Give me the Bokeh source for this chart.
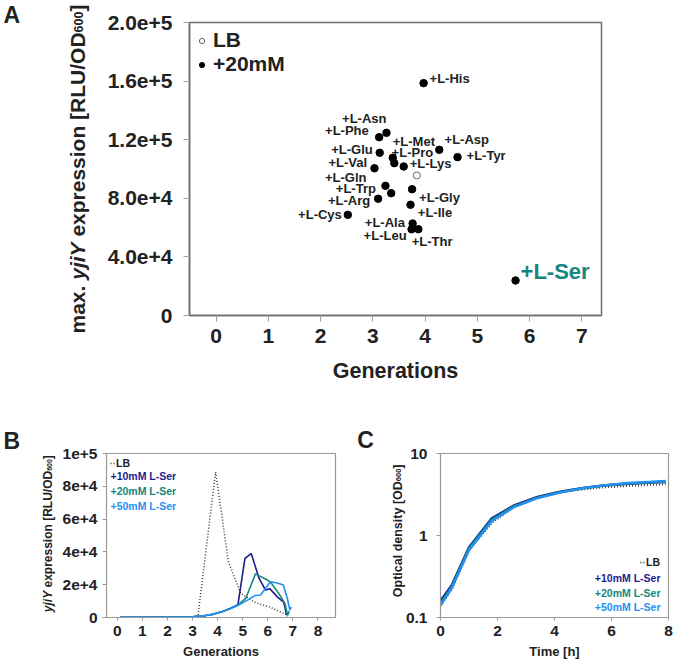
import math
from bokeh.plotting import figure
from bokeh.models import Range1d, FixedTicker, Label, Legend, LegendItem, ColumnDataSource
from bokeh.layouts import column, row
from bokeh.embed import file_html
from bokeh.resources import INLINE
from bokeh.core.properties import value

# ---------------- data ----------------
# Panel A: max. yjiY expression vs generations (+20 mM amino acid)
A_amino = ["+L-His", "+L-Asn", "+L-Phe", "+L-Met", "+L-Asp", "+L-Glu", "+L-Pro", "+L-Tyr",
           "+L-Val", "+L-Lys", "+L-Gln", "+L-Trp", "+L-Gly", "+L-Arg", "+L-Ile", "+L-Cys",
           "+L-Ala", "+L-Leu", "+L-Thr", "+L-Ser"]
A_generations = [3.97, 3.26, 3.12, 3.38, 4.27, 3.13, 3.41, 4.62, 3.03, 3.59,
                 3.24, 3.35, 3.75, 3.10, 3.72, 2.52, 3.76, 3.74, 3.87, 5.73]
A_max_expr = [158600, 124700, 121700, 107600, 113100, 111100, 104000, 108100, 100500, 101700,
              88500, 83500, 86200, 79700, 75600, 68700, 62800, 58900, 58900, 23900]
A_LB_generations = [3.84]
A_LB_max_expr = [95600]
A_xticks = [0, 1, 2, 3, 4, 5, 6, 7]
A_yticks = [0, 40000, 80000, 120000, 160000, 200000]
A_ytick_labels = ["0", "4.0e+4", "8.0e+4", "1.2e+5", "1.6e+5", "2.0e+5"]

# Panel B: yjiY expression vs generations
B_LB_gen = [0.13, 0.6, 1.1, 1.6, 2.1, 2.6, 3.0, 3.22, 3.92, 4.43, 4.92, 5.51, 6.11, 6.71, 6.78]
B_LB_expr = [200, 200, 200, 200, 250, 300, 500, 1400, 88700, 34000, 14700, 9000, 6200, 2000, 500]
B_10_gen = [0.13, 0.7, 1.3, 1.9, 2.5, 3.0, 3.4, 3.8, 4.2, 4.5, 4.81, 5.09, 5.34, 5.65, 5.91, 6.08, 6.38, 6.64, 6.75]
B_10_expr = [150, 150, 150, 200, 250, 400, 900, 1900, 3600, 5500, 7800, 36000, 39000, 24000, 16700, 17600, 12600, 9200, 1400]
B_20_gen = [0.13, 0.7, 1.3, 1.9, 2.5, 3.0, 3.4, 3.8, 4.2, 4.5, 4.81, 5.12, 5.51, 5.98, 6.11, 6.44, 6.68, 6.79, 6.85]
B_20_expr = [150, 150, 150, 200, 250, 400, 900, 1900, 3600, 5400, 7600, 11600, 26600, 22900, 21500, 14700, 8600, 1200, 4000]
B_50_gen = [0.13, 0.7, 1.3, 1.9, 2.5, 3.0, 3.4, 3.8, 4.2, 4.5, 4.81, 5.19, 5.50, 5.71, 6.11, 6.38, 6.62, 6.78, 6.88, 6.93]
B_50_expr = [150, 150, 150, 200, 250, 400, 900, 1900, 3600, 5300, 7300, 10600, 13400, 13700, 21800, 21000, 19800, 11600, 4500, 6500]
B_xticks = [0, 1, 2, 3, 4, 5, 6, 7, 8]
B_yticks = [0, 20000, 40000, 60000, 80000, 100000]
B_ytick_labels = ["0", "2e+4", "4e+4", "6e+4", "8e+4", "1e+5"]

# Panel C: optical density vs time
C_time = [0, 0.4, 1.0, 1.8, 2.6, 3.4, 4.2, 5.0, 5.8, 6.6, 7.4, 7.9]
C_LB = [0.14, 0.22, 0.66, 1.42, 2.25, 2.85, 3.35, 3.65, 3.88, 4.03, 4.15, 4.22]
C_10 = [0.16, 0.25, 0.72, 1.62, 2.35, 2.95, 3.42, 3.80, 4.10, 4.28, 4.42, 4.50]
C_20 = [0.15, 0.24, 0.70, 1.57, 2.30, 2.90, 3.38, 3.77, 4.08, 4.30, 4.45, 4.54]
C_50 = [0.14, 0.23, 0.66, 1.50, 2.24, 2.85, 3.33, 3.78, 4.12, 4.37, 4.52, 4.62]
C_xticks = [0, 2, 4, 6, 8]
C_yticks = [0.1, 1, 10]
C_ytick_labels = ["0.1", "1", "10"]

series_names = ["LB", "+10mM L-Ser", "+20mM L-Ser", "+50mM L-Ser"]

# ---------------- styling ----------------
F = "Liberation Sans"
TXT = "#222222"
NAVY = "#1c1c8c"
TEAL = "#13877e"
BLUE = "#2390f5"
LBC = "#3a3a3a"

# label placement of panel A (pixel offsets of each label from its dot)
A_lab_dx = [6, 0, -10.4, 0, 5.3, -7, -2.7, 9, -7.3, 6, -19, -15.3, 7, -8, 7.3, -6, -7.7, -5, -6.7, 5]
A_lab_dy = [-4.4, -14, -6.7, -16, -10.3, -3.3, -10.4, -1.7, -6, -2.7, -8.6, -5, 8, 1.7, 8, 0, -0.7, 6.3, 12, -9.3]
A_lab_align = ["left", "right", "right", "left", "left", "right", "left", "left", "right", "left",
               "right", "right", "left", "right", "left", "right", "right", "right", "left", "left"]

AW = {' ': 278, '.': 278, '/': 278, '[': 333, ']': 333, '0': 556, '6': 556, 'a': 556, 'c': 556,
      'd': 611, 'e': 556, 'i': 278, 'j': 278, 'l': 278, 'm': 889, 'n': 611, 'o': 611, 'p': 611,
      'r': 389, 's': 556, 't': 333, 'x': 556, 'y': 556, 'D': 722, 'L': 611, 'O': 778, 'R': 722,
      'U': 722, 'Y': 667}


def tw(s, size):
    return sum(AW.get(c, 556) for c in s) * size / 1000.0


class Page:
    """Places free texts of a figure at figure pixel positions (drawn as overlay text glyphs)."""

    def __init__(self, p, x0, y0, frame_left, frame_bottom):
        self.p, self.x0, self.y0, self.fl, self.fb = p, x0, y0, frame_left, frame_bottom

    def text(self, px, py, txt, size, style="bold", color=TXT, align="left", baseline="middle", angle=0.0):
        r = self.p.text(x=[self.x0], y=[self.y0], text=[txt], x_offset=px - self.fl, y_offset=py - self.fb,
                        angle=angle, text_align=align, text_baseline=baseline, text_font=value(F),
                        text_font_style=style, text_font_size=value(f"{size:.2f}px"), text_color=color)
        r.level = "overlay"
        return r

    def rotated(self, px, py0, pieces):
        py = py0
        for txt, size, style, shift in pieces:
            lead = len(txt) - len(txt.lstrip())
            self.text(px + shift, py - tw(txt[:lead], size), txt.strip(), size, style=style,
                      baseline="alphabetic", angle=math.pi / 2)
            py -= tw(txt, size)


def style_axes(p, tick_out, tick_size, tick_standoff, line_color, tick_color):
    for ax in (p.xaxis[0], p.yaxis[0]):
        ax.major_tick_out = tick_out
        ax.major_tick_in = 0
        ax.minor_tick_out = 0
        ax.minor_tick_in = 0
        ax.major_tick_line_color = tick_color
        ax.axis_line_color = line_color
        ax.major_label_text_font = F
        ax.major_label_text_font_style = "bold"
        ax.major_label_text_font_size = tick_size
        ax.major_label_text_color = TXT
        ax.major_label_standoff = tick_standoff
        ax.axis_label_text_font = F
        ax.axis_label_text_font_style = "bold"
        ax.axis_label_text_color = TXT
    p.xgrid.visible = False
    p.ygrid.visible = False


def text_label(p, x, y, txt, size, color=TXT, align="left"):
    p.add_layout(Label(x=x, y=y, x_units="screen", y_units="screen", text=txt, text_font=F,
                       text_font_size=size, text_font_style="bold", text_color=color,
                       text_align=align, text_baseline="middle"))


# ---------------- Panel A ----------------
HA = 425
pA = figure(width=675, height=HA, x_range=Range1d(-0.51, 7.375), y_range=Range1d(0, 200000),
            output_backend="svg", toolbar_location=None,
            min_border_left=189, min_border_right=74, min_border_top=22, min_border_bottom=HA - 315)
pA.outline_line_color = "#6e6e6e"
pA.outline_line_width = 1.5
style_axes(pA, 6, "21px", 7, "#6e6e6e", "#a0a0a0")
pA.xaxis.axis_line_width = 1.5
pA.yaxis.axis_line_width = 1.5
pA.yaxis.major_label_standoff = 11
pA.xaxis.ticker = FixedTicker(ticks=A_xticks)
pA.yaxis.ticker = FixedTicker(ticks=A_yticks)
pA.yaxis.major_label_overrides = {v: s for v, s in zip(A_yticks, A_ytick_labels)}
pA.xaxis.axis_label = "Generations"
pA.xaxis.axis_label_text_font_size = "21.5px"
pA.xaxis.axis_label_standoff = 13

srcA = ColumnDataSource(dict(x=A_generations, y=A_max_expr, name=A_amino))
r20 = pA.scatter("x", "y", source=srcA, size=7.5, color="black")
rLB = pA.scatter(A_LB_generations, A_LB_max_expr, size=7, fill_color="white",
                 line_color="#666666", line_width=1)

for align in ("left", "right"):
    idx = [i for i, a in enumerate(A_lab_align) if a == align and A_amino[i] != "+L-Ser"]
    src = ColumnDataSource(dict(x=[A_generations[i] for i in idx], y=[A_max_expr[i] for i in idx],
                                name=[A_amino[i] for i in idx],
                                dx=[A_lab_dx[i] for i in idx], dy=[A_lab_dy[i] for i in idx]))
    pA.text("x", "y", text="name", source=src, x_offset="dx", y_offset="dy",
            text_align=align, text_baseline="middle", text_font=value(F),
            text_font_style="bold", text_font_size=value("13px"), text_color=TXT)

iS = A_amino.index("+L-Ser")
srcS = ColumnDataSource(dict(x=[A_generations[iS]], y=[A_max_expr[iS]], name=[A_amino[iS]],
                             dx=[A_lab_dx[iS]], dy=[A_lab_dy[iS]]))
pA.text("x", "y", text="name", source=srcS, x_offset="dx", y_offset="dy",
        text_align="left", text_baseline="middle", text_font=value(F),
        text_font_style="bold", text_font_size=value("22px"), text_color=TEAL)

legA = Legend(items=[LegendItem(label="LB", renderers=[rLB]), LegendItem(label="+20mM", renderers=[r20])],
              location="top_left", margin=0, padding=6, spacing=0, glyph_width=13, glyph_height=23,
              label_height=23, label_width=0, label_standoff=5, label_text_font=F,
              label_text_font_style="bold", label_text_font_size="21px", label_text_color=TXT,
              background_fill_alpha=0, border_line_alpha=0)
pA.add_layout(legA)

pageA = Page(pA, -0.51, 0, 189, 315)
pageA.text(3, 14.5, "A", 23)
pageA.rotated(76.7, 333, [
    ("max. ", 21, "bold", 0),
    ("yjiY", 21, "bold italic", 0),
    (" expression [RLU/OD", 21, "bold", 0),
    ("600", 12.5, "bold", 1),
    ("]", 21, "bold", 0),
])

# ---------------- Panel B ----------------
H2 = 666 - HA
TOP2 = HA  # page y where the lower row starts
pB = figure(width=340, height=H2, x_range=Range1d(-0.43, 8.70), y_range=Range1d(0, 100000),
            output_backend="svg", toolbar_location=None,
            min_border_left=106, min_border_right=5, min_border_top=453 - TOP2, min_border_bottom=666 - 617)
pB.outline_line_color = "#9a9a9a"
pB.outline_line_width = 1.2
style_axes(pB, 4, "15.5px", 5, "#9a9a9a", "#9a9a9a")
pB.xaxis.major_tick_out = 3
pB.xaxis.ticker = FixedTicker(ticks=B_xticks)
pB.yaxis.ticker = FixedTicker(ticks=B_yticks)
pB.yaxis.major_label_overrides = {v: s for v, s in zip(B_yticks, B_ytick_labels)}
pB.xaxis.axis_label = "Generations"
pB.xaxis.axis_label_text_font_size = "13px"
pB.xaxis.axis_label_standoff = 5

rB_LB = pB.line(B_LB_gen, B_LB_expr, line_color=LBC, line_width=1.5, line_dash="1 2")
pB.line(B_10_gen, B_10_expr, line_color=NAVY, line_width=1.6)
pB.line(B_20_gen, B_20_expr, line_color=TEAL, line_width=1.6)
pB.line(B_50_gen, B_50_expr, line_color=BLUE, line_width=1.6)

legB = Legend(items=[LegendItem(label=series_names[0], renderers=[rB_LB])], location="top_left",
              margin=0, padding=4, spacing=0, glyph_width=5, glyph_height=10, label_height=10,
              label_width=0, label_standoff=1, label_text_font=F, label_text_font_style="bold",
              label_text_font_size="10.5px", label_text_color=TXT,
              background_fill_alpha=0, border_line_alpha=0)
pB.add_layout(legB)

B_fl, B_fb = 106, 617 - TOP2  # frame left / bottom inside the figure
for name, col, ry in zip(series_names[1:], [NAVY, TEAL, BLUE], [475.7, 490.7, 505.0]):
    text_label(pB, 110 - B_fl, B_fb - (ry - TOP2), name, "10.5px", color=col)

pageB = Page(pB, -0.43, 0, B_fl, B_fb)
pageB.text(3, 440 - TOP2, "B", 23)
pageB.rotated(47.6, 611.7 - TOP2, [
    ("yjiY", 12, "bold italic", 0),
    (" expression [RLU/OD", 12, "bold", 0),
    ("600", 7, "bold", 1),
    ("]", 12, "bold", 0),
])

# ---------------- Panel C ----------------
pC = figure(width=335, height=H2, x_range=Range1d(0, 8), y_range=Range1d(0.1, 10), y_axis_type="log",
            output_backend="svg", toolbar_location=None,
            min_border_left=100, min_border_right=7, min_border_top=453 - TOP2, min_border_bottom=666 - 617)
pC.outline_line_color = "#9a9a9a"
pC.outline_line_width = 1.2
style_axes(pC, 4, "15.5px", 9, "#9a9a9a", "#9a9a9a")
pC.xaxis.major_tick_out = 3
pC.xaxis.major_label_standoff = 5
pC.xaxis.ticker = FixedTicker(ticks=C_xticks)
pC.yaxis.ticker = FixedTicker(ticks=C_yticks)
pC.yaxis.major_label_overrides = {v: s for v, s in zip(C_yticks, C_ytick_labels)}
pC.xaxis.axis_label = "Time [h]"
pC.xaxis.axis_label_text_font_size = "13px"
pC.xaxis.axis_label_standoff = 5

rC_LB = pC.line(C_time, C_LB, line_color=LBC, line_width=2, line_dash="1 2")
pC.line(C_time, C_10, line_color=NAVY, line_width=2.4)
pC.line(C_time, C_20, line_color=TEAL, line_width=2.4)
pC.line(C_time, C_50, line_color=BLUE, line_width=2.4)

C_fl, C_fb = 100, 617 - TOP2  # frame left / bottom inside the figure
c_right = (660 - 340) - C_fl
lb_w = 1.333 * 10.5
legC = Legend(items=[LegendItem(label=series_names[0], renderers=[rC_LB])],
              location=(c_right - (4 + 5 + 1 + lb_w), C_fb - (562.7 - TOP2) - 9),
              margin=0, padding=4, spacing=0, glyph_width=5, glyph_height=10, label_height=10,
              label_width=0, label_standoff=1, label_text_font=F, label_text_font_style="bold",
              label_text_font_size="10.5px", label_text_color=TXT,
              background_fill_alpha=0, border_line_alpha=0)
pC.add_layout(legC)
for name, col, ry in zip(series_names[1:], [NAVY, TEAL, BLUE], [577.3, 592.3, 606.7]):
    text_label(pC, c_right, C_fb - (ry - TOP2), name, "10.5px", color=col, align="right")

pageC = Page(pC, 0, 0.1, C_fl, C_fb)
pageC.text(356.7 - 340, 439.3 - TOP2, "C", 23)
pageC.rotated(397.3 - 340, 596.7 - TOP2, [
    ("Optical density [OD", 12.5, "bold", 0),
    ("600", 7.5, "bold", 1),
    ("]", 12.5, "bold", 0),
])

layout = column(pA, row(pB, pC))
open("out.html", "w").write(file_html(layout, INLINE))
